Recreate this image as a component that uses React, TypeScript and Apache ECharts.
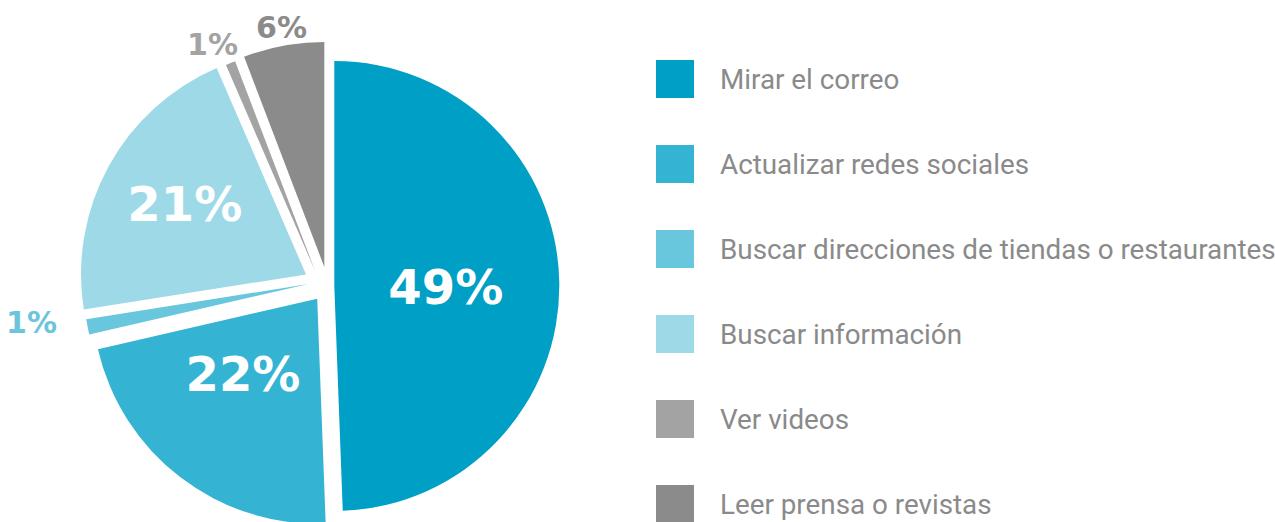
import React, { useEffect, useRef } from "react";
import * as echarts from "echarts";

// ---- data ----
const categories = [
  "Mirar el correo",
  "Actualizar redes sociales",
  "Buscar direcciones de tiendas o restaurantes",
  "Buscar información",
  "Ver videos",
  "Leer prensa o revistas",
];
const shares = [49.4, 22.0, 1.1, 21.0, 0.7, 5.8];

// ---- styles / layout ----
const colors = ["#00a0c6", "#35b3d3", "#68c6dd", "#9ed9e8", "#a3a3a3", "#8b8b8b"];
const labelColors = ["#ffffff", "#ffffff", "#6cc5dc", "#ffffff", "#a3a3a3", "#8b8b8b"];
const labelInside = [true, true, false, true, false, false];
const PIE_CENTER = [327, 286];
const PIE_RADIUS = 225;
// per-slice explosion offsets (px)
const explodeOffsets = [
  [7.3, 0],
  [-9.8, 12.7],
  [-18.5, -2],
  [-21, -11.6],
  [-11.7, -14.6],
  [-2.7, -19],
];
// fine label shifts (px)
const labelShift = [
  [-4, 3],
  [-4, -16],
  [-25.6, -4],
  [-20, -15],
  [12.5, -18],
  [28.5, -18],
];

export default function App() {
  const ref = useRef<HTMLDivElement>(null);

  useEffect(() => {
    if (!ref.current) return;
    const chart = echarts.init(ref.current, undefined, { renderer: "svg" });
    const total = shares.reduce((a, b) => a + b, 0);
    let cum = 0;
    const hidden = {
      itemStyle: { color: "rgba(0,0,0,0)" },
      label: { show: false },
      labelLine: { show: false },
      emphasis: { disabled: true },
    };
    const series = shares.map((v, i) => {
      const before = cum;
      cum += v;
      const after = total - cum;
      return {
        type: "pie",
        silent: true,
        center: [PIE_CENTER[0] + explodeOffsets[i][0], PIE_CENTER[1] + explodeOffsets[i][1]],
        radius: [0, PIE_RADIUS],
        startAngle: 90,
        clockwise: true,
        avoidLabelOverlap: false,
        minShowLabelAngle: 0,
        label: {
          show: true,
          position: labelInside[i] ? "inside" : "outside",
          formatter: (p: any) => Math.round(p.percent) + "%",
          color: labelColors[i],
          fontFamily: "DejaVu Sans",
          fontWeight: "bold",
          fontSize: labelInside[i] ? 48 : 30,
        },
        labelLine: { show: false, length: 0, length2: 0 },
        labelLayout: { dx: labelShift[i][0], dy: labelShift[i][1] },
        data: [
          { value: before, name: "", ...hidden },
          { value: v, name: categories[i], itemStyle: { color: colors[i] } },
          { value: after, name: " ", ...hidden },
        ],
      };
    });

    chart.setOption({
      animation: false,
      backgroundColor: "#ffffff",
      legend: {
        orient: "vertical",
        left: 651,
        top: 55,
        itemWidth: 38,
        itemHeight: 38,
        itemGap: 47,
        icon: "rect",
        selectedMode: false,
        data: categories.map((c, i) => ({ name: c, itemStyle: { color: colors[i] } })),
        textStyle: {
          fontFamily: "Roboto",
          fontSize: 27.8,
          color: "#8a8a8a",
          padding: [6, 0, 0, 21],
        },
      },
      series,
    } as any);

    return () => chart.dispose();
  }, []);

  return (
    <div
      ref={ref}
      style={{ position: "fixed", left: 0, top: 0, width: 1275, height: 580, background: "#fff" }}
    />
  );
}
